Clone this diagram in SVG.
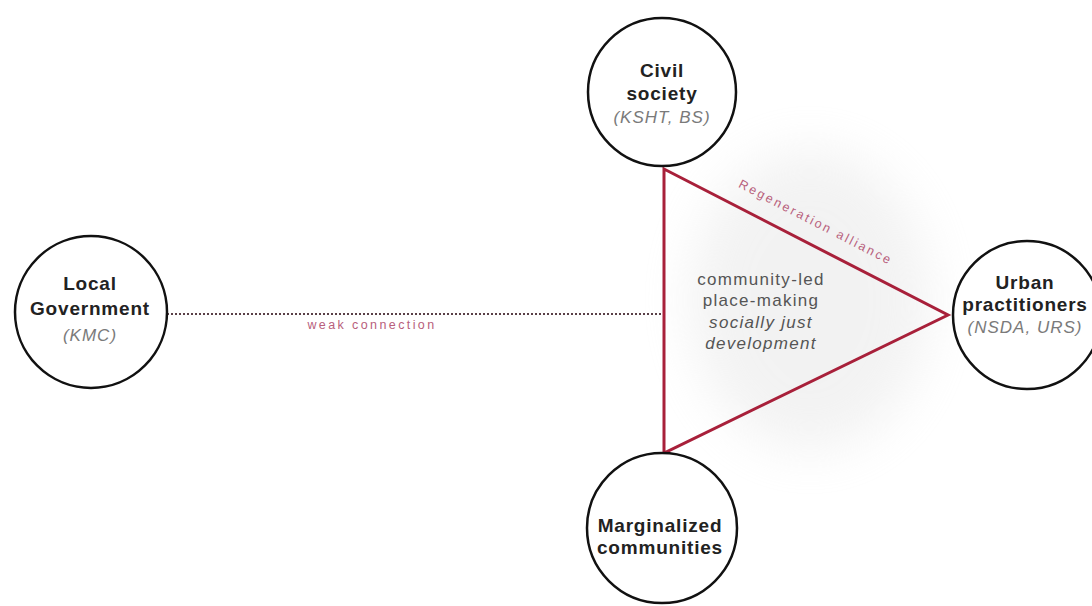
<svg xmlns="http://www.w3.org/2000/svg" width="1092" height="606" viewBox="0 0 1092 606">
  <defs>
    <filter id="blur" x="-50%" y="-50%" width="200%" height="200%">
      <feGaussianBlur stdDeviation="25"/>
    </filter>
    <style>
      .node circle { fill: #ffffff; stroke: #111111; stroke-width: 2.5; }
      .title { font-family: "Liberation Sans", Arial, sans-serif; font-weight: bold; font-size: 19px; fill: #222222; text-anchor: middle; letter-spacing: 0.8px; }
      .sub { font-family: "Liberation Sans", Arial, sans-serif; font-style: italic; font-size: 17px; fill: #7a7a7a; text-anchor: middle; letter-spacing: 1px; }
      .center { font-family: "Liberation Sans", Arial, sans-serif; font-size: 17px; fill: #555555; text-anchor: middle; letter-spacing: 1.3px; }
      .edge-label { font-family: "Liberation Sans", Arial, sans-serif; font-size: 12.5px; fill: #b8607c; text-anchor: middle; letter-spacing: 2.4px; }
      .strong { stroke: #a8203a; stroke-width: 3; fill: none; stroke-linejoin: miter; }
      .weak { stroke: #5a4048; stroke-width: 1.8; stroke-dasharray: 2 2; fill: none; }
    </style>
  </defs>
  <rect width="1092" height="606" fill="#ffffff"/>
  <ellipse cx="810" cy="300" rx="120" ry="150" fill="#dcdcdc" opacity="0.35" filter="url(#blur)"/>

  <g id="connectors">
    <line class="weak" x1="167" y1="314" x2="664" y2="314"/>
    <polygon class="strong" points="664,169 948,315 664,453"/>
    <text class="edge-label" x="372" y="329">weak connection</text>
    <text class="edge-label" transform="translate(814,226) rotate(27.2)">Regeneration alliance</text>
  </g>

  <g id="center-label">
    <text class="center" x="761" y="285">community-led</text>
    <text class="center" x="761" y="306">place-making</text>
    <text class="center" x="761" y="328" font-style="italic">socially just</text>
    <text class="center" x="761" y="349" font-style="italic">development</text>
  </g>

  <g id="civil-society" class="node">
    <circle cx="662" cy="92" r="74"/>
    <text class="title" x="662" y="77">Civil</text>
    <text class="title" x="662" y="100">society</text>
    <text class="sub" x="662" y="123">(KSHT, BS)</text>
  </g>

  <g id="local-government" class="node">
    <circle cx="91" cy="312" r="76"/>
    <text class="title" x="90" y="290">Local</text>
    <text class="title" x="90" y="315">Government</text>
    <text class="sub" x="90" y="341">(KMC)</text>
  </g>

  <g id="urban-practitioners" class="node">
    <circle cx="1027" cy="315" r="74"/>
    <text class="title" x="1025" y="289">Urban</text>
    <text class="title" x="1025" y="311">practitioners</text>
    <text class="sub" x="1025" y="333">(NSDA, URS)</text>
  </g>

  <g id="marginalized-communities" class="node">
    <circle cx="662" cy="528" r="75"/>
    <text class="title" x="660" y="532">Marginalized</text>
    <text class="title" x="660" y="554">communities</text>
  </g>
</svg>
